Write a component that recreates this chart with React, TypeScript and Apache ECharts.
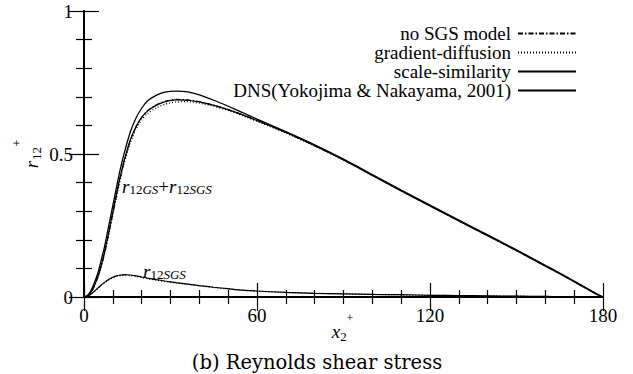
import React, { useEffect, useRef } from 'react';
import * as echarts from 'echarts';

const xs = [0, 1, 2, 3, 4, 5, 6, 7, 8, 9, 10, 11, 12, 13, 14, 16, 18, 20, 22, 25, 28, 32, 36, 40, 45, 50, 55, 60, 70, 80, 90, 100, 110, 120, 130, 140, 150, 160, 165, 170, 175, 178, 180];

const dns = [0, 0.004, 0.015, 0.035, 0.06, 0.09, 0.13, 0.17, 0.22, 0.27, 0.32, 0.37, 0.42, 0.465, 0.505, 0.575, 0.625, 0.66, 0.685, 0.705, 0.716, 0.72, 0.717, 0.707, 0.688, 0.667, 0.645, 0.622, 0.578, 0.532, 0.482, 0.428, 0.374, 0.321, 0.269, 0.217, 0.165, 0.111, 0.084, 0.056, 0.027, 0.01, 0];

const scaleSim = [0, 0.003, 0.012, 0.028, 0.05, 0.078, 0.112, 0.152, 0.198, 0.248, 0.298, 0.348, 0.396, 0.44, 0.48, 0.548, 0.595, 0.628, 0.65, 0.67, 0.682, 0.689, 0.688, 0.682, 0.67, 0.655, 0.637, 0.617, 0.575, 0.529, 0.479, 0.425, 0.371, 0.318, 0.266, 0.214, 0.162, 0.108, 0.081, 0.053, 0.025, 0.009, 0];

const noSgs = [0, 0.003, 0.011, 0.026, 0.047, 0.075, 0.108, 0.147, 0.192, 0.242, 0.292, 0.342, 0.39, 0.435, 0.476, 0.545, 0.594, 0.628, 0.651, 0.671, 0.684, 0.691, 0.689, 0.683, 0.671, 0.655, 0.637, 0.617, 0.576, 0.53, 0.48, 0.426, 0.372, 0.319, 0.267, 0.215, 0.163, 0.109, 0.082, 0.054, 0.026, 0.009, 0];

const gradDiff = [0, 0.003, 0.011, 0.026, 0.047, 0.074, 0.107, 0.146, 0.19, 0.238, 0.287, 0.336, 0.384, 0.429, 0.47, 0.538, 0.586, 0.619, 0.641, 0.661, 0.674, 0.682, 0.683, 0.678, 0.667, 0.652, 0.634, 0.614, 0.573, 0.528, 0.479, 0.425, 0.371, 0.318, 0.266, 0.214, 0.162, 0.108, 0.081, 0.053, 0.025, 0.009, 0];

const sgsScaleSim = [0, 0.002, 0.007, 0.015, 0.024, 0.033, 0.042, 0.05, 0.058, 0.064, 0.069, 0.073, 0.076, 0.077, 0.078, 0.077, 0.074, 0.07, 0.066, 0.061, 0.056, 0.05, 0.045, 0.04, 0.034, 0.029, 0.024, 0.021, 0.016, 0.013, 0.011, 0.009, 0.008, 0.006, 0.005, 0.004, 0.003, 0.002, 0.0015, 0.001, 0.0005, 0.0002, 0];

const sgsGradDiff = [0, 0.002, 0.007, 0.014, 0.023, 0.032, 0.041, 0.049, 0.056, 0.062, 0.067, 0.071, 0.074, 0.075, 0.076, 0.075, 0.072, 0.068, 0.064, 0.059, 0.054, 0.049, 0.044, 0.039, 0.033, 0.028, 0.024, 0.02, 0.016, 0.013, 0.011, 0.009, 0.007, 0.006, 0.005, 0.004, 0.003, 0.002, 0.0015, 0.001, 0.0005, 0.0002, 0];

const legendNames = ['no SGS model', 'gradient-diffusion', 'scale-similarity', 'DNS(Yokojima & Nakayama, 2001)'];
const xTicks = { min: 0, max: 180, interval: 60 };
const yTicks = { min: 0, max: 1, interval: 0.5 };

const SERIF = 'Times New Roman';
const TITLE_FONT = 'DejaVu Serif';

const pairs = (ys: number[]) => xs.map((x, i) => [x, ys[i]]);

export default function App() {
  const ref = useRef<HTMLDivElement>(null);
  useEffect(() => {
    if (!ref.current) return;
    const chart = echarts.init(ref.current, undefined, { renderer: 'svg' });
    const axisCommon = {
      axisLine: { show: true, lineStyle: { color: '#000', width: 2 } },
      splitLine: { show: false },
      axisTick: { show: true, inside: true, length: 14, lineStyle: { color: '#000', width: 1.2 } },
      minorTick: { show: true, length: 7, lineStyle: { color: '#000', width: 1.2 } },
    };
    const lineS = (name: string, data: number[], type: any, width = 1.2) => ({
      type: 'line',
      name,
      data: pairs(data),
      showSymbol: false,
      symbol: 'none',
      smooth: 0.2,
      lineStyle: { color: '#000', width, type },
      itemStyle: { color: '#000' },
      xAxisIndex: 0,
      yAxisIndex: 0,
      z: 3,
    });
    const txt = (x: number, y: number, text: string, fontStyle: string, fontSize: number, family: string, extra: any = {}) => ({
      type: 'text', x, y, ...extra,
      style: { text, fontStyle, fontSize, fontFamily: family, fill: '#000', align: 'center', verticalAlign: 'middle' },
    });
    const richStyles = {
      i: { fontStyle: 'italic', fontSize: 19, fontFamily: SERIF, lineHeight: 20, fill: '#000' },
      n: { fontSize: 19, fontFamily: SERIF, lineHeight: 20, fill: '#000' },
      s: { fontSize: 13, fontFamily: SERIF, lineHeight: 6, verticalAlign: 'bottom', fill: '#000' },
      si: { fontStyle: 'italic', fontSize: 13, fontFamily: SERIF, lineHeight: 6, verticalAlign: 'bottom', fill: '#000' },
    };
    const option: any = {
      animation: false,
      backgroundColor: '#fff',
      textStyle: { fontFamily: SERIF },
      grid: { left: 84, right: 30, top: 11, bottom: 77, containLabel: false, outerBoundsMode: 'none' },
      xAxis: [
        {
          type: 'value', ...xTicks, position: 'bottom', ...axisCommon,
          minorTick: { ...axisCommon.minorTick, splitNumber: 6 },
          axisLabel: { show: true, color: '#000', fontFamily: SERIF, fontSize: 19, margin: 9 },
        },
        {
          type: 'value', ...xTicks, position: 'top', ...axisCommon,
          axisLine: { show: true, lineStyle: { color: '#000', width: 1.5 } },
          minorTick: { ...axisCommon.minorTick, splitNumber: 6 },
          axisLabel: { show: false },
        },
      ],
      yAxis: [
        {
          type: 'value', ...yTicks, position: 'left', ...axisCommon,
          axisTick: { ...axisCommon.axisTick, length: 15 },
          minorTick: { ...axisCommon.minorTick, splitNumber: 5, length: 8 },
          axisLabel: { show: true, color: '#000', fontFamily: SERIF, fontSize: 19, margin: 11 },
        },
        {
          type: 'value', ...yTicks, position: 'right', ...axisCommon,
          axisLine: { show: true, lineStyle: { color: '#000', width: 1.5 } },
          axisTick: { ...axisCommon.axisTick, length: 15 },
          minorTick: { ...axisCommon.minorTick, splitNumber: 5, length: 8 },
          axisLabel: { show: false },
        },
      ],
      legend: {
        data: legendNames,
        orient: 'vertical',
        align: 'right',
        right: 56,
        top: 24,
        padding: 0,
        itemGap: 0,
        itemWidth: 58,
        itemHeight: 19,
        itemStyle: { color: 'rgba(0,0,0,0)', borderColor: 'rgba(0,0,0,0)', borderWidth: 0, opacity: 0 },
        textStyle: { color: '#000', fontFamily: SERIF, fontSize: 19, lineHeight: 19, padding: [0, 2, 0, 0] },
        selectedMode: false,
      },
      series: [
        lineS(legendNames[0], noSgs, [5, 2, 1.5, 2]),
        lineS(legendNames[1], gradDiff, [1, 2]),
        lineS(legendNames[2], scaleSim, 'solid'),
        lineS(legendNames[3], dns, 'solid', 1.3),
        lineS('sgs-scale-similarity', sgsScaleSim, 'solid'),
        lineS('sgs-gradient-diffusion', sgsGradDiff, [1, 2]),
      ],
      graphic: [
        txt(31, 164.5, 'r', 'italic', 19, SERIF, { rotation: Math.PI / 2 }),
        txt(36, 153.5, '12', 'normal', 13, SERIF, { rotation: Math.PI / 2 }),
        txt(17, 143, '+', 'normal', 12, SERIF, { rotation: Math.PI / 2 }),
        txt(336, 331, 'x', 'italic', 19, SERIF),
        txt(343.5, 336, '2', 'normal', 13, SERIF),
        txt(350, 318, '+', 'normal', 12, SERIF),
        txt(317, 362, '(b) Reynolds shear stress', 'normal', 19.5, TITLE_FONT),
        {
          type: 'text', x: 122, y: 176,
          style: { text: '{i|r}{s|12}{si|GS}{n|+}{i|r}{s|12}{si|SGS}', fill: '#000', fontFamily: SERIF, rich: richStyles },
        },
        {
          type: 'text', x: 143, y: 261,
          style: { text: '{i|r}{s|12}{si|SGS}', fill: '#000', fontFamily: SERIF, rich: richStyles },
        },
      ],
    };
    chart.setOption(option);
    return () => chart.dispose();
  }, []);
  return <div ref={ref} style={{ position: 'fixed', left: 0, top: 0, width: 633, height: 374, background: '#fff' }} />;
}
